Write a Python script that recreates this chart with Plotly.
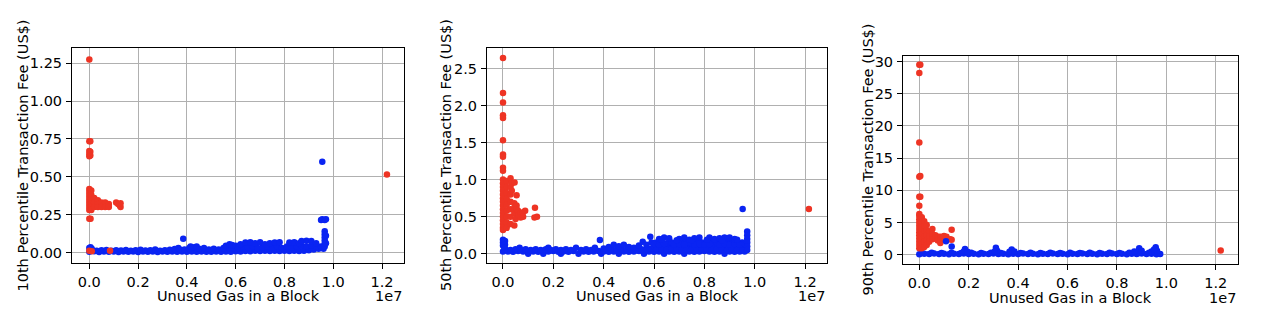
import plotly.graph_objects as go

# x values are "Unused Gas in a Block" in units of 1e7 gas; y values are fees in US$
# ---------------- 10th percentile ----------------
p10_blue = [
    (0.00, 0.005), (0.02, 0.008), (0.04, 0.003), (0.06, 0.006), (0.08, 0.004), (0.10, 0.007),
    (0.12, 0.003), (0.14, 0.006), (0.16, 0.004), (0.18, 0.007), (0.20, 0.003), (0.22, 0.006),
    (0.24, 0.004), (0.26, 0.007), (0.28, 0.003), (0.30, 0.006), (0.32, 0.004), (0.34, 0.006),
    (0.36, 0.004), (0.38, 0.006), (0.40, 0.004), (0.42, 0.006), (0.44, 0.004), (0.46, 0.007),
    (0.48, 0.005), (0.50, 0.004), (0.52, 0.006), (0.54, 0.004), (0.56, 0.007), (0.58, 0.005),
    (0.60, 0.008), (0.62, 0.006), (0.64, 0.010), (0.66, 0.008), (0.68, 0.012), (0.70, 0.010),
    (0.72, 0.012), (0.74, 0.010), (0.76, 0.012), (0.78, 0.010), (0.80, 0.012), (0.82, 0.010),
    (0.84, 0.012), (0.86, 0.010), (0.88, 0.012), (0.90, 0.015), (0.92, 0.020), (0.94, 0.025),
    (0.96, 0.025),
    (0.01, 0.015), (0.03, 0.012), (0.05, 0.014), (0.07, 0.016), (0.09, 0.012), (0.11, 0.015),
    (0.13, 0.013), (0.15, 0.016), (0.17, 0.012), (0.19, 0.014), (0.21, 0.018), (0.23, 0.013),
    (0.25, 0.015), (0.27, 0.020), (0.29, 0.012), (0.31, 0.015), (0.33, 0.018), (0.35, 0.022),
    (0.000, 0.030), (0.005, 0.035), (0.010, 0.025), (0.365, 0.030), (0.385, 0.090), (0.370, 0.020),
    (0.39, 0.020), (0.41, 0.030), (0.43, 0.035), (0.45, 0.025), (0.47, 0.030), (0.49, 0.020),
    (0.51, 0.025), (0.53, 0.020), (0.55, 0.030), (0.57, 0.035), (0.59, 0.030),
    (0.415, 0.040), (0.440, 0.040), (0.560, 0.045), (0.575, 0.055), (0.585, 0.050), (0.600, 0.045),
    (0.61, 0.030), (0.63, 0.040), (0.65, 0.035), (0.67, 0.040), (0.69, 0.030), (0.71, 0.035),
    (0.73, 0.040), (0.75, 0.035), (0.77, 0.040), (0.79, 0.030), (0.81, 0.040), (0.83, 0.035),
    (0.85, 0.040), (0.87, 0.045), (0.89, 0.040), (0.91, 0.045), (0.93, 0.040), (0.95, 0.040),
    (0.62, 0.055), (0.64, 0.065), (0.66, 0.068), (0.68, 0.060), (0.70, 0.068), (0.72, 0.055),
    (0.74, 0.060), (0.76, 0.065), (0.78, 0.068), (0.82, 0.065), (0.84, 0.068), (0.86, 0.060),
    (0.87, 0.075), (0.89, 0.078), (0.91, 0.075), (0.93, 0.060),
    (0.965, 0.14), (0.965, 0.12), (0.965, 0.10), (0.965, 0.08), (0.965, 0.06), (0.965, 0.04),
    (0.970, 0.11), (0.970, 0.06),
    (0.950, 0.215), (0.955, 0.220), (0.965, 0.215), (0.970, 0.220),
    (0.955, 0.600),
]
p10_red = [
    (0.000, 1.275),
    (0.000, 0.735), (0.004, 0.735),
    (0.000, 0.670), (0.000, 0.650), (0.000, 0.635), (0.004, 0.665), (0.004, 0.640),
    (0.000, 0.42), (0.000, 0.40), (0.000, 0.38), (0.000, 0.36), (0.000, 0.34), (0.000, 0.32),
    (0.000, 0.30), (0.000, 0.28), (0.008, 0.41), (0.008, 0.38), (0.008, 0.35), (0.008, 0.32),
    (0.008, 0.30), (0.008, 0.28),
    (0.020, 0.36), (0.020, 0.33), (0.020, 0.30), (0.035, 0.345), (0.035, 0.32), (0.035, 0.30),
    (0.050, 0.33), (0.050, 0.30), (0.065, 0.33), (0.065, 0.30), (0.080, 0.32), (0.080, 0.30),
    (0.110, 0.330), (0.118, 0.320), (0.125, 0.310), (0.128, 0.300), (0.128, 0.325),
    (0.000, 0.222), (0.005, 0.222),
    (0.000, 0.012), (0.010, 0.008), (0.085, 0.012),
    (1.220, 0.515),
]

# ---------------- 50th percentile ----------------
p50_blue = [
    (0.00, 0.03), (0.02, 0.03), (0.04, 0.025), (0.06, 0.035), (0.08, 0.03), (0.10, 0.00),
    (0.12, 0.03), (0.14, 0.025), (0.16, 0.00), (0.18, 0.03), (0.20, 0.035), (0.22, 0.025),
    (0.23, 0.00), (0.24, 0.03), (0.26, 0.025), (0.28, 0.035), (0.30, 0.00), (0.32, 0.03),
    (0.34, 0.025), (0.36, 0.03), (0.38, 0.035), (0.39, 0.00), (0.40, 0.03), (0.42, 0.025),
    (0.44, 0.03), (0.46, 0.00), (0.48, 0.03), (0.50, 0.025), (0.52, 0.03), (0.54, 0.035),
    (0.56, 0.00), (0.58, 0.03), (0.60, 0.025), (0.62, 0.03), (0.64, 0.00), (0.66, 0.03),
    (0.68, 0.025), (0.70, 0.03), (0.72, 0.00), (0.74, 0.03), (0.76, 0.025), (0.78, 0.03),
    (0.80, 0.035), (0.82, 0.03), (0.84, 0.025), (0.86, 0.03), (0.88, 0.00), (0.90, 0.03),
    (0.92, 0.025), (0.94, 0.03), (0.96, 0.03),
    (0.01, 0.06), (0.03, 0.05), (0.05, 0.06), (0.066, 0.08), (0.07, 0.05), (0.09, 0.06),
    (0.11, 0.05), (0.13, 0.06), (0.15, 0.05), (0.17, 0.06), (0.18, 0.08), (0.19, 0.05),
    (0.21, 0.06), (0.23, 0.05), (0.25, 0.06), (0.27, 0.05), (0.29, 0.08), (0.31, 0.05),
    (0.33, 0.06), (0.35, 0.05), (0.365, 0.08),
    (0.000, 0.19), (0.000, 0.15), (0.000, 0.11), (0.008, 0.17), (0.008, 0.12), (0.005, 0.08),
    (0.385, 0.185),
    (0.41, 0.06), (0.43, 0.06), (0.45, 0.05), (0.47, 0.06), (0.49, 0.05), (0.51, 0.06),
    (0.53, 0.05), (0.55, 0.06), (0.57, 0.06), (0.59, 0.07),
    (0.40, 0.07), (0.42, 0.09), (0.44, 0.12), (0.46, 0.10), (0.48, 0.12), (0.50, 0.09),
    (0.52, 0.08), (0.54, 0.11), (0.555, 0.16), (0.57, 0.12), (0.585, 0.23), (0.59, 0.15),
    (0.60, 0.09), (0.62, 0.10), (0.64, 0.09), (0.66, 0.10), (0.68, 0.09), (0.70, 0.10),
    (0.72, 0.09), (0.74, 0.10), (0.76, 0.09), (0.78, 0.10), (0.80, 0.09), (0.82, 0.10),
    (0.84, 0.09), (0.86, 0.10), (0.88, 0.09), (0.90, 0.10), (0.92, 0.09), (0.94, 0.10),
    (0.96, 0.09),
    (0.61, 0.06), (0.63, 0.06), (0.65, 0.05), (0.67, 0.06), (0.69, 0.06), (0.71, 0.05),
    (0.73, 0.06), (0.75, 0.06), (0.77, 0.05), (0.79, 0.06), (0.81, 0.06), (0.83, 0.05),
    (0.85, 0.06), (0.87, 0.06), (0.89, 0.05), (0.91, 0.06), (0.93, 0.06), (0.95, 0.05),
    (0.61, 0.15), (0.63, 0.16), (0.65, 0.14), (0.67, 0.15), (0.71, 0.16), (0.73, 0.15),
    (0.75, 0.14), (0.77, 0.16), (0.79, 0.15), (0.81, 0.14), (0.83, 0.16), (0.85, 0.15),
    (0.89, 0.16), (0.91, 0.15), (0.93, 0.14), (0.95, 0.15),
    (0.60, 0.13), (0.62, 0.12), (0.64, 0.13), (0.68, 0.12), (0.70, 0.13), (0.72, 0.12),
    (0.76, 0.12), (0.78, 0.13), (0.80, 0.12), (0.82, 0.13), (0.86, 0.12), (0.88, 0.13),
    (0.90, 0.12), (0.92, 0.13), (0.94, 0.12), (0.96, 0.13),
    (0.62, 0.20), (0.64, 0.22), (0.66, 0.21), (0.70, 0.20), (0.72, 0.22), (0.74, 0.19),
    (0.76, 0.21), (0.78, 0.22), (0.82, 0.22), (0.84, 0.20), (0.86, 0.21), (0.88, 0.22),
    (0.90, 0.22), (0.92, 0.20), (0.63, 0.19), (0.69, 0.18), (0.75, 0.18), (0.81, 0.19),
    (0.87, 0.18), (0.93, 0.19),
    (0.970, 0.30), (0.970, 0.25), (0.970, 0.20), (0.970, 0.15), (0.970, 0.10), (0.970, 0.05),
    (0.952, 0.604),
]
p50_red = [
    (0.000, 2.64), (0.000, 2.17), (0.000, 2.04), (0.000, 1.87), (0.000, 1.83), (0.000, 1.53),
    (0.000, 1.34), (0.000, 1.31), (0.000, 1.16), (0.000, 1.12),
    (0.000, 1.00), (0.000, 0.95), (0.000, 0.90), (0.000, 0.85), (0.000, 0.80), (0.000, 0.75),
    (0.000, 0.70), (0.000, 0.65), (0.000, 0.60), (0.000, 0.55), (0.000, 0.50), (0.000, 0.45),
    (0.000, 0.40), (0.000, 0.35), (0.000, 0.32),
    (0.015, 0.98), (0.015, 0.90), (0.015, 0.82), (0.015, 0.74), (0.015, 0.66), (0.015, 0.58),
    (0.015, 0.50), (0.015, 0.42), (0.015, 0.35),
    (0.030, 1.02), (0.030, 0.90), (0.030, 0.80), (0.030, 0.70), (0.030, 0.60), (0.030, 0.50),
    (0.030, 0.40), (0.035, 0.95), (0.035, 0.85),
    (0.046, 0.96), (0.045, 0.68), (0.045, 0.62), (0.045, 0.55), (0.050, 0.47), (0.045, 0.38),
    (0.054, 0.79), (0.054, 0.65), (0.054, 0.60),
    (0.060, 0.58), (0.062, 0.52), (0.070, 0.55), (0.070, 0.49), (0.080, 0.56), (0.080, 0.50),
    (0.088, 0.58),
    (0.127, 0.62), (0.125, 0.49), (0.135, 0.50),
    (1.215, 0.604),
]

# ---------------- 90th percentile ----------------
p90_blue = [
    (0.00, 0.05), (0.02, 0.15), (0.04, 0.10), (0.06, 0.20), (0.08, 0.10), (0.10, 0.15),
    (0.12, 0.05), (0.14, 0.15), (0.16, 0.10), (0.18, 0.20), (0.20, 0.10), (0.22, 0.15),
    (0.24, 0.05), (0.26, 0.15), (0.28, 0.10), (0.30, 0.20), (0.32, 0.10), (0.34, 0.15),
    (0.36, 0.05), (0.38, 0.15), (0.40, 0.10), (0.42, 0.20), (0.44, 0.10), (0.46, 0.15),
    (0.48, 0.05), (0.50, 0.15), (0.52, 0.10), (0.54, 0.20), (0.56, 0.10), (0.58, 0.15),
    (0.60, 0.05), (0.62, 0.15), (0.64, 0.10), (0.66, 0.20), (0.68, 0.10), (0.70, 0.15),
    (0.72, 0.05), (0.74, 0.15), (0.76, 0.10), (0.78, 0.20), (0.80, 0.10), (0.82, 0.15),
    (0.84, 0.05), (0.86, 0.15), (0.88, 0.10), (0.90, 0.20), (0.92, 0.10), (0.94, 0.15),
    (0.96, 0.05), (0.975, 0.10),
    (0.01, 0.25), (0.05, 0.30), (0.09, 0.25), (0.13, 0.30), (0.17, 0.25), (0.21, 0.30),
    (0.25, 0.25), (0.29, 0.30), (0.33, 0.25), (0.37, 0.30), (0.41, 0.25), (0.45, 0.30),
    (0.49, 0.25), (0.53, 0.30), (0.57, 0.25), (0.61, 0.30), (0.65, 0.25), (0.69, 0.30),
    (0.73, 0.25), (0.77, 0.30), (0.81, 0.25), (0.85, 0.30), (0.89, 0.25), (0.93, 0.30),
    (0.185, 0.90), (0.180, 0.50), (0.195, 0.45), (0.310, 1.08), (0.315, 0.60), (0.305, 0.50),
    (0.374, 0.82), (0.365, 0.45), (0.385, 0.50), (0.870, 0.50), (0.890, 1.00), (0.900, 0.60),
    (0.940, 0.50), (0.957, 1.17), (0.962, 0.60), (0.950, 0.80),
]
p90_red = [
    (0.000, 29.5), (0.004, 29.5), (0.000, 28.2), (0.000, 17.4), (0.000, 12.1), (0.004, 12.2),
    (0.000, 9.0), (0.004, 9.0), (0.000, 7.6), (0.000, 6.3),
    (0.000, 6.0), (0.000, 5.5), (0.000, 5.0), (0.000, 4.5), (0.000, 4.0), (0.000, 3.5),
    (0.000, 3.0), (0.000, 2.5), (0.000, 2.0), (0.000, 1.5), (0.000, 1.0),
    (0.010, 5.8), (0.010, 5.0), (0.010, 4.2), (0.010, 3.4), (0.010, 2.6), (0.010, 1.8),
    (0.010, 1.0),
    (0.020, 5.2), (0.020, 4.4), (0.020, 3.6), (0.020, 2.8), (0.020, 2.0), (0.020, 1.2),
    (0.030, 4.6), (0.030, 3.8), (0.030, 3.0), (0.030, 2.2), (0.030, 1.5),
    (0.040, 3.6), (0.040, 2.8), (0.040, 2.0), (0.053, 4.0), (0.053, 3.2), (0.053, 2.4),
    (0.065, 3.0), (0.065, 2.5), (0.075, 2.8), (0.075, 2.2), (0.085, 2.8), (0.085, 2.3),
    (0.085, 1.8), (0.100, 2.5), (0.100, 2.9), (0.110, 2.8),
    (0.131, 3.86), (0.131, 2.3), (0.125, 2.4),
    (1.220, 0.66),
]
p90_blue_front = [(0.108, 2.10), (0.131, 1.28)]

# ---------------- labels ----------------
x_title = "Unused Gas in a Block"
y_titles = [
    "10th Percentile Transaction Fee (US$)",
    "50th Percentile Transaction Fee (US$)",
    "90th Percentile Transaction Fee (US$)",
]
x_ticks = [0.0, 0.2, 0.4, 0.6, 0.8, 1.0, 1.2]
offset_text = "1e7"

BLUE = "#0a24f2"
RED = "#ee3424"
W, H = 1276, 318
FONT = "DejaVu Sans"
FS = 14.5

# plot boxes in pixels: (left, right, top, bottom)
boxes = [(72, 404, 46, 263), (487, 827, 46, 263), (903, 1238, 54, 264)]
x_ranges = [[-0.071, 1.29], [-0.0635, 1.287], [-0.066, 1.29]]
y_ranges = [[-0.072, 1.353], [-0.13, 2.78], [-1.5, 30.9]]
y_dticks = [0.25, 0.5, 5]
y_formats = [".2f", ".1f", "d"]
ylabel_x = [23, 445.5, 867.5]
xtitle_y = [296, 296, 297.5]

fig = go.Figure()


def add(points, ax, color):
    fig.add_trace(go.Scatter(
        x=[p[0] for p in points], y=[p[1] for p in points],
        mode="markers", xaxis="x" + ax, yaxis="y" + ax,
        marker=dict(color=color, size=6.5, line=dict(width=0)),
        showlegend=False, hoverinfo="skip",
    ))


add(p10_blue, "", BLUE)
add(p10_red, "", RED)
add(p50_blue, "2", BLUE)
add(p50_red, "2", RED)
add(p90_blue, "3", BLUE)
add(p90_red, "3", RED)
add(p90_blue_front, "3", BLUE)

common = dict(
    showline=True, linecolor="black", linewidth=1, mirror=True,
    ticks="outside", ticklen=5, tickwidth=1, tickcolor="black",
    showgrid=True, gridcolor="#b0b0b0", gridwidth=1, zeroline=False,
    tickfont=dict(family=FONT, size=FS, color="black"),
)

layout = dict(
    width=W, height=H, margin=dict(l=0, r=0, t=0, b=0),
    paper_bgcolor="white", plot_bgcolor="white", showlegend=False,
    font=dict(family=FONT, size=FS, color="black"),
)
annotations = []
for i, (l, r, t, b) in enumerate(boxes):
    sfx = "" if i == 0 else str(i + 1)
    layout["xaxis" + sfx] = dict(
        common, domain=[l / W, r / W], range=x_ranges[i], anchor="y" + sfx,
        tickvals=x_ticks, tickformat=".1f", ticklabelstandoff=0,
    )
    layout["yaxis" + sfx] = dict(
        common, domain=[(H - b) / H, (H - t) / H], range=y_ranges[i], anchor="x" + sfx,
        dtick=y_dticks[i], tick0=0, tickformat=y_formats[i], ticklabelstandoff=1,
    )
    annotations.append(dict(
        text=x_title, x=(l + r) / 2 / W, y=(H - xtitle_y[i]) / H, xref="paper", yref="paper",
        xanchor="center", yanchor="middle", showarrow=False,
        font=dict(family=FONT, size=FS, color="black"),
    ))
    annotations.append(dict(
        text=offset_text, x=r / W, y=(H - xtitle_y[i]) / H, xref="paper", yref="paper",
        xanchor="right", yanchor="middle", showarrow=False,
        font=dict(family=FONT, size=FS, color="black"),
    ))
    annotations.append(dict(
        text=y_titles[i], x=ylabel_x[i] / W, y=(H - (t + b) / 2) / H,
        xref="paper", yref="paper", xanchor="center", yanchor="middle",
        textangle=-90, showarrow=False,
        font=dict(family=FONT, size=FS, color="black"),
    ))
layout["annotations"] = annotations
fig.update_layout(**layout)
fig.write_html("out.html")
